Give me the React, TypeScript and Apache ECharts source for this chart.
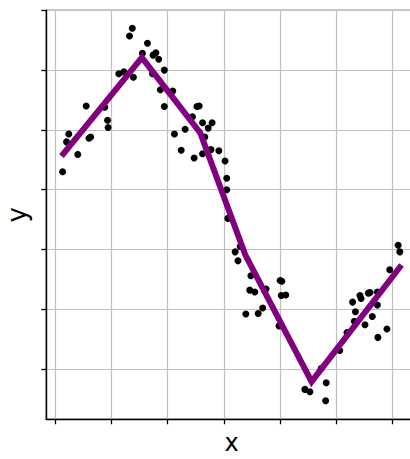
import React, { useEffect, useRef } from "react";
import * as echarts from "echarts";

// Scatter observations [x, y]
const pointsX: number[] = [
  0.13, 0.2, 0.24, 0.4, 0.55, 0.6, 0.63, 0.88, 0.93, 0.94,
  1.13, 1.22, 1.39, 1.32, 1.37, 1.55, 1.64, 1.74, 1.79, 1.84,
  1.73, 1.94, 1.87, 2.09, 1.94, 2.52, 2.56, 2.44, 2.62, 2.79,
  2.72, 2.31, 2.12, 2.66, 2.24, 2.47, 2.62, 2.77, 2.91, 3.02,
  3.05, 3.05, 3.07, 3.29, 3.2, 3.25, 3.48, 3.46, 3.55, 3.75,
  4.0, 4.03, 4.02, 4.1, 3.39, 3.61, 3.69, 3.98, 4.44, 4.53,
  4.82, 4.81, 4.73, 5.06, 5.19, 5.29, 5.34, 5.32, 5.42, 5.44,
  5.57, 5.6, 5.73, 5.73, 5.64, 5.51, 5.74, 5.9, 5.95, 6.1, 6.13,
];
const pointsY: number[] = [
  3.3, 3.8, 3.93, 3.59, 4.4, 3.86, 3.88, 4.38, 4.16, 4.04,
  4.94, 4.97, 4.88, 5.57, 5.7, 5.28, 5.45, 5.25, 5.29, 5.18,
  4.94, 5.0, 4.67, 4.65, 4.39, 4.39, 4.4, 4.22, 4.12, 4.12,
  4.03, 4.01, 3.93, 3.88, 3.66, 3.53, 3.6, 3.67, 3.65, 3.48,
  3.19, 3.0, 2.52, 2.05, 1.96, 1.81, 1.56, 1.32, 1.29, 1.34,
  1.48, 1.47, 1.23, 1.24, 0.92, 0.93, 1.02, 0.72, -0.34, -0.38,
  -0.23, -0.53, 0.01, 0.31, 0.61, 1.12, 0.96, 0.8, 1.23, 1.18,
  1.27, 1.28, 1.29, 1.07, 0.88, 0.74, 0.53, 0.67, 1.66, 2.07, 1.96,
];

// Piecewise linear fit vertices
const fitX: number[] = [0.11, 1.54, 2.58, 3.38, 4.56, 6.16];
const fitY: number[] = [3.56, 5.21, 3.95, 1.91, -0.21, 1.74];

// Tick positions (labels hidden)
const xTicks: number[] = [0, 1, 2, 3, 4, 5, 6];
const yTicks: number[] = [0, 1, 2, 3, 4, 5, 6];

export default function App() {
  const ref = useRef<HTMLDivElement>(null);

  useEffect(() => {
    if (!ref.current) return;
    const chart = echarts.init(ref.current, undefined, { renderer: "svg" });
    const scatterData = pointsX.map((x, i) => [x, pointsY[i]]);
    const lineData = fitX.map((x, i) => [x, fitY[i]]);
    const font = "DejaVu Sans";
    chart.setOption({
      animation: false,
      backgroundColor: "#ffffff",
      grid: {
        left: 46.3,
        top: 10.3,
        right: -6.7,
        bottom: 39.7,
        containLabel: false,
        outerBoundsMode: "none",
        show: true,
        borderColor: "#333333",
        borderWidth: 1.3,
        backgroundColor: "transparent",
      },
      xAxis: {
        type: "value",
        min: -0.16,
        max: 6.43,
        name: "x",
        nameLocation: "middle",
        nameGap: 12,
        nameTextStyle: { fontFamily: font, fontSize: 24, color: "#000000" },
        axisLine: { show: true, onZero: false, lineStyle: { color: "#000000", width: 1.4 } },
        axisTick: {
          show: true,
          customValues: xTicks,
          length: 5,
          inside: false,
          lineStyle: { color: "#000000", width: 1.3 },
        },
        axisLabel: { show: false },
        splitLine: { show: true, lineStyle: { color: "#c0c0c0", width: 1.2, type: "solid" } },
      },
      yAxis: {
        type: "value",
        min: -0.84,
        max: 6,
        name: "y",
        nameLocation: "middle",
        nameGap: 16,
        nameTextStyle: { fontFamily: font, fontSize: 26, color: "#000000" },
        axisLine: { show: true, onZero: false, lineStyle: { color: "#000000", width: 1.4 } },
        axisTick: {
          show: true,
          customValues: yTicks,
          length: 5,
          inside: false,
          lineStyle: { color: "#000000", width: 1.3 },
        },
        axisLabel: { show: false },
        splitLine: { show: true, lineStyle: { color: "#c0c0c0", width: 1.2, type: "solid" } },
      },
      series: [
        {
          type: "scatter",
          data: scatterData,
          symbol: "circle",
          symbolSize: 7,
          itemStyle: { color: "#000000", opacity: 1 },
          z: 2,
        },
        {
          type: "line",
          data: lineData,
          showSymbol: false,
          symbol: "none",
          lineStyle: { color: "#800080", width: 6, cap: "butt", join: "miter" },
          z: 3,
        },
      ],
    });
    return () => chart.dispose();
  }, []);

  return (
    <div
      ref={ref}
      style={{ position: "absolute", left: 0, top: 0, width: 410, height: 459 }}
    />
  );
}
